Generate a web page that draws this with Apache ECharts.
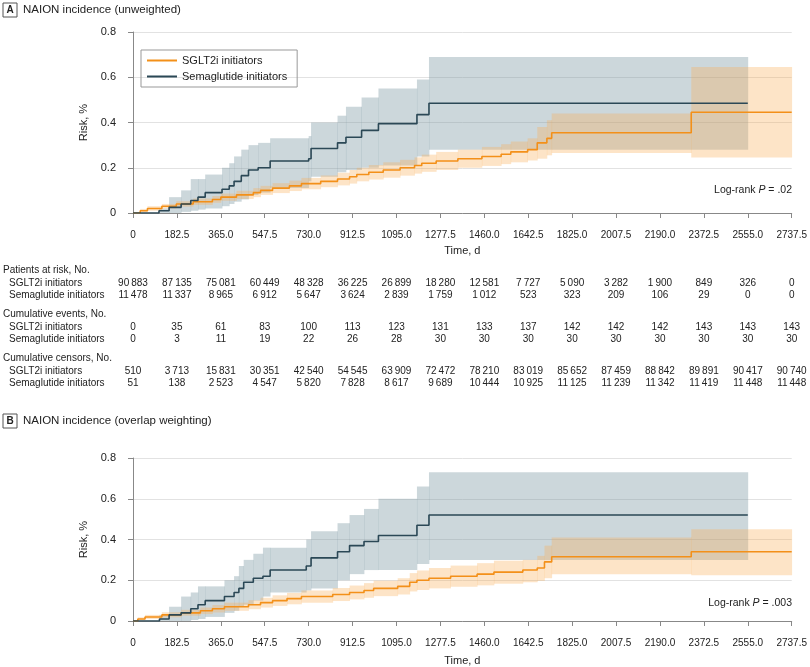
<!DOCTYPE html>
<html>
<head>
<meta charset="utf-8">
<script src="https://cdn.jsdelivr.net/npm/echarts@6/dist/echarts.min.js"></script>
<style>html,body{margin:0;padding:0;background:#fff}#main{width:810px;height:667px}</style>
</head>
<body>
<div id="main"></div>
<script>
var FONT = "'Liberation Sans',Arial,sans-serif";
var ticks = [0, 182.5, 365, 547.5, 730, 912.5, 1095, 1277.5, 1460, 1642.5, 1825, 2007.5, 2190, 2372.5, 2555, 2737.5];

// panel A (unweighted)
var semaT_A  = [0, 108, 150, 200, 240, 270, 300, 370, 400, 420, 450, 480, 520, 570, 730, 740, 850, 885, 950, 1020, 1180, 1230, 2555];
var semaE_A  = [0, 0.01, 0.025, 0.04, 0.055, 0.07, 0.09, 0.105, 0.12, 0.14, 0.165, 0.19, 0.20, 0.23, 0.24, 0.285, 0.31, 0.335, 0.365, 0.395, 0.435, 0.485, 0.485];
var semaLo_A = [0, 0, 0, 0.005, 0.01, 0.015, 0.02, 0.03, 0.04, 0.05, 0.06, 0.08, 0.09, 0.11, 0.14, 0.16, 0.18, 0.19, 0.20, 0.21, 0.25, 0.28, 0.28];
var semaHi_A = [0, 0.02, 0.07, 0.10, 0.15, 0.15, 0.17, 0.20, 0.22, 0.25, 0.28, 0.30, 0.31, 0.33, 0.34, 0.40, 0.43, 0.47, 0.51, 0.55, 0.59, 0.69, 0.69];

var sgltT_A  = [0, 30, 60, 120, 180, 250, 330, 365, 430, 500, 530, 580, 650, 700, 780, 850, 900, 930, 980, 1040, 1110, 1170, 1200, 1260, 1350, 1450, 1530, 1570, 1640, 1680, 1720, 1740, 2320, 2737.5];
var sgltE_A  = [0, 0.01, 0.02, 0.03, 0.04, 0.05, 0.06, 0.07, 0.08, 0.09, 0.10, 0.11, 0.12, 0.13, 0.14, 0.15, 0.16, 0.17, 0.18, 0.19, 0.20, 0.21, 0.22, 0.23, 0.24, 0.25, 0.26, 0.27, 0.28, 0.31, 0.33, 0.355, 0.445, 0.445];
var sgltLo_A = [0, 0.005, 0.01, 0.02, 0.028, 0.036, 0.045, 0.054, 0.062, 0.07, 0.08, 0.088, 0.097, 0.105, 0.114, 0.122, 0.13, 0.14, 0.148, 0.156, 0.165, 0.174, 0.182, 0.19, 0.2, 0.208, 0.216, 0.224, 0.232, 0.24, 0.255, 0.265, 0.245, 0.245];
var sgltHi_A = [0, 0.018, 0.03, 0.04, 0.052, 0.064, 0.075, 0.086, 0.098, 0.11, 0.12, 0.132, 0.143, 0.155, 0.166, 0.178, 0.19, 0.2, 0.212, 0.224, 0.235, 0.246, 0.258, 0.27, 0.28, 0.292, 0.304, 0.316, 0.33, 0.38, 0.41, 0.44, 0.645, 0.645];

// panel B (overlap weighting)
var semaT_B  = [0, 110, 150, 200, 240, 270, 300, 380, 420, 440, 460, 500, 540, 570, 720, 740, 850, 900, 960, 1020, 1180, 1230, 2555];
var semaE_B  = [0, 0.01, 0.03, 0.04, 0.06, 0.08, 0.10, 0.12, 0.14, 0.16, 0.19, 0.21, 0.22, 0.25, 0.27, 0.31, 0.34, 0.37, 0.39, 0.42, 0.47, 0.52, 0.52];
var semaLo_B = [0, 0, 0, 0, 0.005, 0.01, 0.02, 0.04, 0.05, 0.07, 0.08, 0.10, 0.12, 0.14, 0.15, 0.16, 0.20, 0.23, 0.25, 0.25, 0.28, 0.30, 0.30];
var semaHi_B = [0, 0.03, 0.07, 0.12, 0.14, 0.17, 0.17, 0.20, 0.22, 0.27, 0.30, 0.33, 0.36, 0.36, 0.40, 0.44, 0.48, 0.52, 0.55, 0.60, 0.66, 0.73, 0.73];

var sgltT_B  = [0, 20, 50, 120, 200, 280, 330, 380, 480, 530, 580, 640, 700, 830, 900, 960, 1000, 1100, 1150, 1180, 1230, 1320, 1430, 1500, 1620, 1680, 1710, 1740, 2320, 2737.5];
var sgltE_B  = [0, 0.01, 0.02, 0.03, 0.04, 0.05, 0.06, 0.07, 0.08, 0.09, 0.10, 0.11, 0.12, 0.13, 0.14, 0.15, 0.16, 0.17, 0.19, 0.20, 0.21, 0.22, 0.23, 0.24, 0.25, 0.26, 0.29, 0.315, 0.34, 0.34];
var sgltLo_B = [0, 0.004, 0.01, 0.018, 0.026, 0.034, 0.042, 0.05, 0.058, 0.066, 0.074, 0.082, 0.09, 0.098, 0.106, 0.114, 0.122, 0.13, 0.145, 0.152, 0.16, 0.168, 0.175, 0.183, 0.19, 0.197, 0.21, 0.23, 0.225, 0.225];
var sgltHi_B = [0, 0.018, 0.03, 0.043, 0.055, 0.066, 0.078, 0.09, 0.102, 0.114, 0.126, 0.138, 0.15, 0.162, 0.174, 0.186, 0.198, 0.21, 0.235, 0.248, 0.26, 0.272, 0.284, 0.296, 0.3, 0.32, 0.37, 0.41, 0.45, 0.45];

// risk table
var rowNames = ['SGLT2i initiators', 'Semaglutide initiators'];
var atRiskSglt = [90883, 87135, 75081, 60449, 48328, 36225, 26899, 18280, 12581, 7727, 5090, 3282, 1900, 849, 326, 0];
var atRiskSema = [11478, 11337, 8965, 6912, 5647, 3624, 2839, 1759, 1012, 523, 323, 209, 106, 29, 0, 0];
var eventsSglt = [0, 35, 61, 83, 100, 113, 123, 131, 133, 137, 142, 142, 142, 143, 143, 143];
var eventsSema = [0, 3, 11, 19, 22, 26, 28, 30, 30, 30, 30, 30, 30, 30, 30, 30];
var censSglt = [510, 3713, 15831, 30351, 42540, 54545, 63909, 72472, 78210, 83019, 85652, 87459, 88842, 89891, 90417, 90740];
var censSema = [51, 138, 2523, 4547, 5820, 7828, 8617, 9689, 10444, 10925, 11125, 11239, 11342, 11419, 11448, 11448];

var ORANGE = '#f39019', NAVY = '#2b4856';

function pairs(t, v) { return t.map(function (x, i) { return [x, v[i]]; }); }
// one rectangle per step: [start, end, lo, hi]
function steps(t, lo, hi) {
    var out = [];
    for (var i = 0; i < t.length - 1; i++) out.push([t[i], t[i + 1], lo[i], hi[i]]);
    return out;
}

function band(idx, t, lo, hi, color) {
    return {type: 'custom', xAxisIndex: idx, yAxisIndex: idx, silent: true, z: 1,
        data: steps(t, lo, hi),
        renderItem: function (params, api) {
            var p0 = api.coord([api.value(0), api.value(3)]);
            var p1 = api.coord([api.value(1), api.value(2)]);
            return {type: 'rect', shape: {x: p0[0], y: p0[1], width: p1[0] - p0[0] + 0.4, height: p1[1] - p0[1]},
                    style: {fill: color}};
        }};
}
function curve(idx, name, t, e, color) {
    return {name: name, type: 'line', step: 'end', xAxisIndex: idx, yAxisIndex: idx, symbol: 'none',
            lineStyle: {color: color, width: 1.6}, itemStyle: {color: color}, data: pairs(t, e), z: 5};
}

var grids = [
    {left: 133, right: 18, top: 32, height: 181},
    {left: 133, right: 18, top: 458, height: 166}
];
var xAxes = [0, 1].map(function (i) {
    return {type: 'value', gridIndex: i, min: 0, max: 2737.5, interval: 182.5, offset: 9,
            name: i == 1 ? 'Time, d' : '', nameLocation: 'middle', nameGap: 25,
            nameTextStyle: {fontFamily: FONT, fontSize: 11, color: '#222'},
            axisLine: {lineStyle: {color: '#888'}}, axisTick: {lineStyle: {color: '#888'}},
            splitLine: {show: false},
            axisLabel: {fontFamily: FONT, fontSize: 10, color: '#222',
                        formatter: function (v) { return v == 0 ? '0' : v.toFixed(1); }}};
});
var yAxes = [0, 1].map(function (i) {
    return {type: 'value', gridIndex: i, min: 0, max: 0.8, interval: 0.2, offset: 9,
            name: 'Risk, %', nameLocation: 'middle', nameGap: 32,
            nameTextStyle: {fontFamily: FONT, fontSize: 11, color: '#222'},
            axisLine: {show: true, lineStyle: {color: '#888'}}, axisTick: {show: true, lineStyle: {color: '#888'}},
            splitLine: {lineStyle: {color: '#e2e2e2'}},
            axisLabel: {fontFamily: FONT, fontSize: 11, color: '#222',
                        formatter: function (v) { return v == 0 ? '0' : v.toFixed(1); }}};
});

var BAND_S = 'rgba(120,150,160,0.38)', BAND_O = 'rgba(250,170,80,0.32)';
var series = [
    band(0, semaT_A, semaLo_A, semaHi_A, BAND_S),
    band(0, sgltT_A, sgltLo_A, sgltHi_A, BAND_O),
    curve(0, 'SGLT2i initiators', sgltT_A, sgltE_A, ORANGE),
    curve(0, 'Semaglutide initiators', semaT_A, semaE_A, NAVY),
    band(1, semaT_B, semaLo_B, semaHi_B, BAND_S),
    band(1, sgltT_B, sgltLo_B, sgltHi_B, BAND_O),
    curve(1, 'SGLT2i b', sgltT_B, sgltE_B, ORANGE),
    curve(1, 'Semaglutide b', semaT_B, semaE_B, NAVY)
];

var myChart = echarts.init(document.getElementById('main'));
myChart.setOption({
    animation: false,
    grid: grids, xAxis: xAxes, yAxis: yAxes, series: series,
    legend: {data: ['SGLT2i initiators', 'Semaglutide initiators'], orient: 'vertical', left: 141, top: 50,
             itemWidth: 30, itemHeight: 2, itemGap: 5, padding: [5, 10, 5, 6],
             borderColor: '#999', borderWidth: 1, icon: 'rect',
             textStyle: {fontFamily: FONT, fontSize: 11, color: '#222'}}
});

// panel labels, log-rank text and risk table
var g = [];
function txt(x, y, s, opt) {
    opt = opt || {};
    g.push({type: 'text', x: x, y: y, style: {text: s, fontFamily: FONT, fontSize: opt.size || 10, fill: '#222',
            align: opt.align || 'left', verticalAlign: 'middle'}});
}
[['A', 10, 'NAION incidence (unweighted)'], ['B', 421, 'NAION incidence (overlap weighting)']].forEach(function (p) {
    g.push({type: 'rect', shape: {x: 3, y: p[1] - 7, width: 14, height: 14}, style: {fill: '#fff', stroke: '#555', lineWidth: 1}});
    g.push({type: 'text', x: 10, y: p[1], style: {text: p[0], fontFamily: FONT, fontSize: 10, fontWeight: 'bold', fill: '#222', align: 'center', verticalAlign: 'middle'}});
    txt(23, p[1], p[2], {size: 11.5});
});
[[190, '.02'], [603, '.003']].forEach(function (p) {
    g.push({type: 'text', x: 792, y: p[0], style: {text: '{n|Log-rank }{i|P}{n| = ' + p[1] + '}', align: 'right', verticalAlign: 'middle',
            rich: {n: {fontFamily: FONT, fontSize: 10.5, fill: '#222'}, i: {fontFamily: FONT, fontSize: 10.5, fontStyle: 'italic', fill: '#222'}}}});
});

var xTime = myChart.convertToPixel({xAxisIndex: 0}, 1368.75);
txt(xTime, 251, 'Time, d', {size: 11, align: 'center'});
var blocks = [
    ['Patients at risk, No.', 270, [atRiskSglt, atRiskSema]],
    ['Cumulative events, No.', 314, [eventsSglt, eventsSema]],
    ['Cumulative censors, No.', 358, [censSglt, censSema]]
];
blocks.forEach(function (b) {
    txt(3, b[1], b[0]);
    b[2].forEach(function (vals, r) {
        var y = b[1] + 13 + r * 12;
        txt(9, y, rowNames[r]);
        vals.forEach(function (v, k) {
            var x = myChart.convertToPixel({xAxisIndex: 0}, ticks[k]);
            txt(x, y, String(v).replace(/\B(?=(\d{3})+(?!\d))/g, '\u2009'), {align: 'center'});
        });
    });
});
myChart.setOption({graphic: g});
</script>
</body>
</html>
